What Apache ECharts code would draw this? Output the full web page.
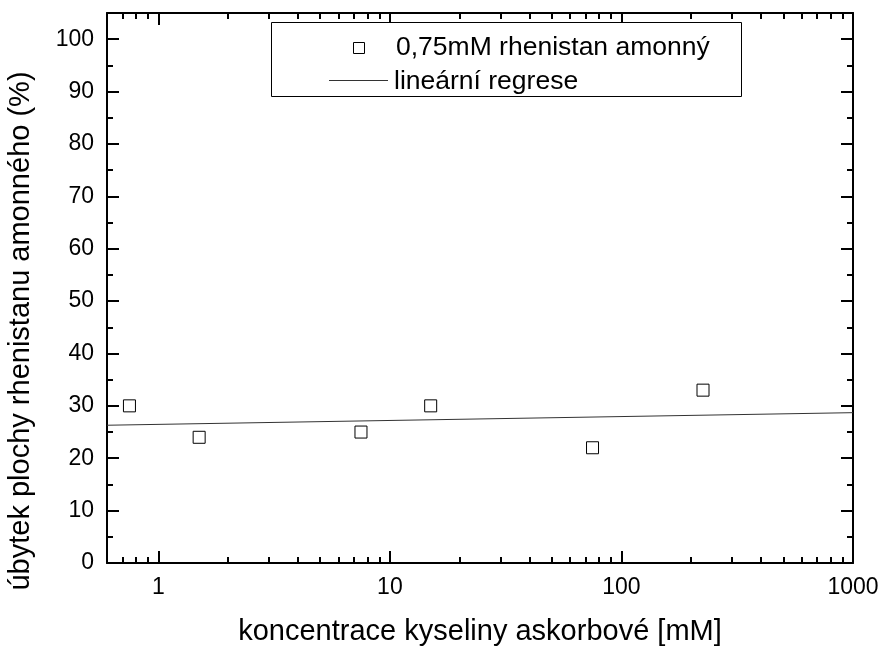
<!DOCTYPE html>
<html>
<head>
<meta charset="utf-8">
<script src="https://cdn.jsdelivr.net/npm/echarts@6/dist/echarts.min.js"></script>
<style>
  html, body { margin: 0; padding: 0; background: #fff; }
  #chart { width: 881px; height: 646px; }
</style>
</head>
<body>
<div id="chart"></div>
<script>
// Measured samples: ascorbic acid concentration [mM] vs. loss of perrhenate peak area [%]
const concentration = [0.75, 1.5, 7.5, 15, 75, 225];
const areaLoss = [30, 24, 25, 30, 22, 33];

// Fitted regression line, end points across the plotted range
const fitX = [0.6, 1000];
const fitY = [26.3, 28.7];

// Axis ticks
const xMajorTicks = [1, 10, 100, 1000];
const xMinorTicks = [0.7, 0.8, 0.9, 2, 3, 4, 5, 6, 7, 8, 9,
  20, 30, 40, 50, 60, 70, 80, 90, 200, 300, 400, 500, 600, 700, 800, 900];
const yMajorTicks = [0, 10, 20, 30, 40, 50, 60, 70, 80, 90, 100];
const yMinorTicks = [5, 15, 25, 35, 45, 55, 65, 75, 85, 95];

const seriesNames = ['0,75mM rhenistan amonný', 'lineární regrese'];
const xTitle = 'koncentrace kyseliny askorbové [mM]';
const yTitle = 'úbytek plochy rhenistanu amonného (%)';

const FONT = 'Liberation Sans, Arial, sans-serif';
const X_MIN = 0.6, X_MAX = 1000, Y_MIN = 0, Y_MAX = 105;

function xAxisDef(position, ticks, len, showLine, showLabel, name) {
  return {
    type: 'log', logBase: 10, min: X_MIN, max: X_MAX, position: position,
    name: name || '', nameLocation: 'middle', nameGap: 54,
    nameTextStyle: { fontFamily: FONT, fontSize: 29, color: '#000' },
    axisLine: { show: showLine, onZero: false, lineStyle: { color: '#000', width: 2 } },
    axisTick: { show: true, inside: true, length: len, customValues: ticks,
      lineStyle: { color: '#000', width: 2 } },
    axisLabel: { show: showLabel, customValues: ticks, margin: 13,
      formatter: v => String(Math.round(v * 100) / 100),
      fontFamily: FONT, fontSize: 23, color: '#000' },
    minorTick: { show: false }, splitLine: { show: false }
  };
}
function yAxisDef(position, ticks, len, showLine, showLabel, name) {
  return {
    type: 'value', min: Y_MIN, max: Y_MAX, position: position,
    name: name || '', nameLocation: 'middle', nameGap: 72,
    nameTextStyle: { fontFamily: FONT, fontSize: 29, color: '#000', padding: [0, 86, 0, 0] },
    axisLine: { show: showLine, onZero: false, lineStyle: { color: '#000', width: 2 } },
    axisTick: { show: true, inside: true, length: len, customValues: ticks,
      lineStyle: { color: '#000', width: 2 } },
    axisLabel: { show: showLabel, customValues: ticks, margin: 13,
      fontFamily: FONT, fontSize: 23, color: '#000' },
    minorTick: { show: false }, splitLine: { show: false }
  };
}

// Legend block drawn as a framed box with symbol samples
const legendGraphic = [
  { type: 'rect', left: 271, top: 22, z: 10,
    shape: { width: 470, height: 74 },
    style: { fill: '#fff', stroke: '#000', lineWidth: 1 } },
  { type: 'rect', left: 353, top: 42, z: 11,
    shape: { width: 11, height: 11 },
    style: { fill: '#fff', stroke: '#000', lineWidth: 1 } },
  { type: 'line', z: 11,
    shape: { x1: 329, y1: 80.5, x2: 388, y2: 80.5 },
    style: { stroke: '#333', lineWidth: 1 } },
  { type: 'text', left: 396, top: 34, z: 11,
    style: { text: seriesNames[0], font: '26.5px ' + FONT, fill: '#000' } },
  { type: 'text', left: 394, top: 68, z: 11,
    style: { text: seriesNames[1], font: '26.5px ' + FONT, fill: '#000' } }
];

const chart = echarts.init(document.getElementById('chart'), null, { renderer: 'canvas' });
chart.setOption({
  backgroundColor: '#fff',
  animation: false,
  grid: { left: 107, right: 28, top: 13, bottom: 83, containLabel: false, outerBoundsMode: 'none' },
  graphic: legendGraphic,
  xAxis: [
    xAxisDef('bottom', xMajorTicks, 12, true, true, xTitle),
    xAxisDef('bottom', xMinorTicks, 6, false, false),
    xAxisDef('top', xMajorTicks, 12, true, false),
    xAxisDef('top', xMinorTicks, 6, false, false)
  ],
  yAxis: [
    yAxisDef('left', yMajorTicks, 12, true, true, yTitle),
    yAxisDef('left', yMinorTicks, 6, false, false),
    yAxisDef('right', yMajorTicks, 12, true, false),
    yAxisDef('right', yMinorTicks, 6, false, false)
  ],
  series: [
    {
      name: seriesNames[0], type: 'scatter', xAxisIndex: 0, yAxisIndex: 0,
      symbol: 'rect', symbolSize: 12,
      itemStyle: { color: '#fff', borderColor: '#000', borderWidth: 1, opacity: 1 },
      data: concentration.map((c, i) => [c, areaLoss[i]]),
      z: 3
    },
    {
      name: seriesNames[1], type: 'line', xAxisIndex: 0, yAxisIndex: 0,
      symbol: 'none', lineStyle: { color: '#333', width: 1 },
      data: fitX.map((x, i) => [x, fitY[i]]),
      z: 2
    }
  ]
});
</script>
</body>
</html>
